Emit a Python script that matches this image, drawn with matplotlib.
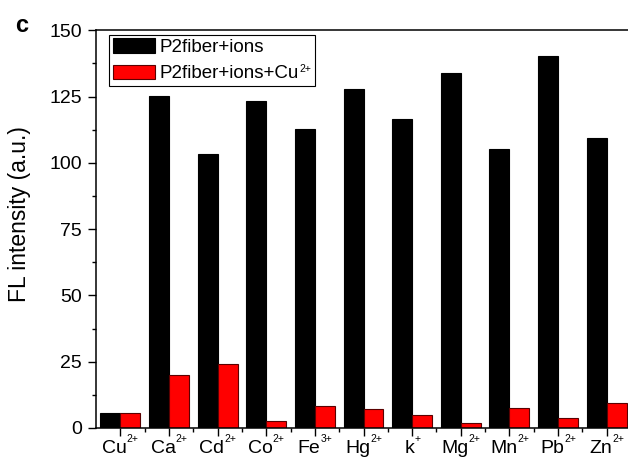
import matplotlib
matplotlib.use("Agg")
import matplotlib.pyplot as plt
from matplotlib.patches import Rectangle
import numpy as np
from matplotlib.ticker import MultipleLocator

plt.rcParams['font.family'] = ['Liberation Sans', 'DejaVu Sans']

ion_names = ['Cu', 'Ca', 'Cd', 'Co', 'Fe', 'Hg', 'k', 'Mg', 'Mn', 'Pb', 'Zn']
ion_charges = ['2+', '2+', '2+', '2+', '3+', '2+', '+', '2+', '2+', '2+', '2+']
ions_only = [5.8, 125.4, 103.5, 123.3, 112.8, 127.9, 116.7, 133.8, 105.2, 140.2, 109.2]
ions_cu = [5.8, 20.0, 24.0, 2.5, 8.3, 7.3, 4.9, 1.8, 7.7, 3.6, 9.6]
series_labels = ['P2fiber+ions', 'P2fiber+ions+Cu']
series_sup = ['', '2+']

W, H = 628, 459
fig = plt.figure(figsize=(W/100, H/100), dpi=100)
ax = fig.add_axes([96/W, 1 - 428/H, 535/W, (428 - 30.3)/H])

x = np.arange(len(ion_names))
w = 0.41
ax.bar(x - w/2, ions_only, width=w, color='black', edgecolor='black', linewidth=0.8,
       label=series_labels[0])
ax.bar(x + w/2, ions_cu, width=w, color='#ff0000', edgecolor='#5a0000', linewidth=0.8,
       label=series_labels[1])

ax.set_xlim(-0.5, len(ion_names) - 0.5)
ax.set_ylim(0, 150)
ax.set_xticks(x)
ax.set_xticklabels([])
ax.set_xticks(x + 0.5, minor=True)
ax.yaxis.set_major_locator(MultipleLocator(25))
ax.yaxis.set_minor_locator(MultipleLocator(12.5))
ax.tick_params(axis='both', which='major', direction='out', length=5.5, width=1.0, labelsize=14)
ax.tick_params(axis='both', which='minor', direction='out', length=3, width=1.0)
ax.tick_params(axis='y', which='major', pad=4.5)
for s in ax.spines.values():
    s.set_linewidth(1.1)

fig.text(20/W, 1 - 214/H, 'FL intensity (a.u.)', rotation=90, ha='center', va='center',
         fontsize=16.5)
fig.text(15/W, 1 - 25/H, 'c', fontsize=17, fontweight='bold', ha='left', va='center')

leg = ax.legend(loc='upper left', bbox_to_anchor=(109/W, 1 - 34.7/H),
                bbox_transform=fig.transFigure, fontsize=13.5, frameon=False,
                handlelength=2.25, handleheight=0.8, borderpad=0.2,
                labelspacing=0.45, handletextpad=0.25, borderaxespad=0)

fig.canvas.draw()
renderer = fig.canvas.get_renderer()

# legend superscript and frame
lbb = leg.get_window_extent(renderer)
right = lbb.x1
for t, sup in zip(leg.get_texts(), series_sup):
    if sup:
        bb = t.get_window_extent(renderer)
        st = fig.text((bb.x1 + 0.5)/W, (bb.y1 + 1)/H, sup, fontsize=7.5, ha='left', va='top')
        right = max(right, st.get_window_extent(renderer).x1 + 4)
fig.patches.append(Rectangle((lbb.x0/W, lbb.y0/H), (right - lbb.x0)/W, lbb.height/H,
                             transform=fig.transFigure, fill=False, edgecolor='black',
                             linewidth=0.8, zorder=5))

# x tick labels with small superscripts
base_y = 428 + 25  # baseline pixel from top
for xi, name, ch in zip(x, ion_names, ion_charges):
    tmain = fig.text(0, 0, name, fontsize=14)
    tsup = fig.text(0, 0, ch, fontsize=7.5)
    wm = tmain.get_window_extent(renderer).width
    ws = tsup.get_window_extent(renderer).width
    tmain.remove(); tsup.remove()
    xpix = ax.transData.transform((xi, 0))[0]
    left = xpix - (wm + ws) / 2
    fig.text(left/W, 1 - base_y/H, name, fontsize=14, ha='left', va='baseline')
    fig.text((left + wm)/W, 1 - (base_y - 11)/H, ch, fontsize=7.5, ha='left', va='baseline')

fig.savefig('out.png', dpi=100)
